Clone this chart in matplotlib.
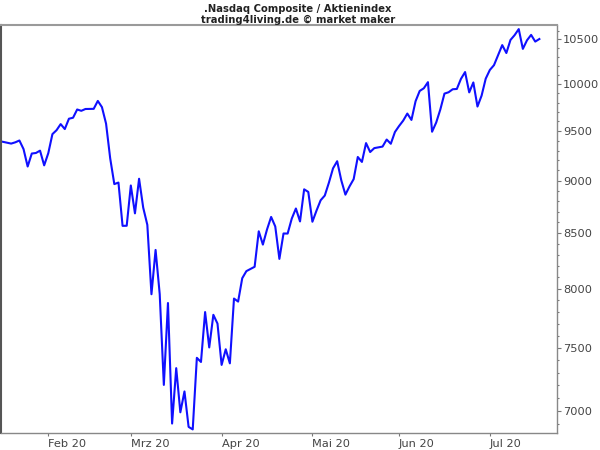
import numpy as np
import pandas as pd
import matplotlib
matplotlib.use("Agg")
import matplotlib.pyplot as plt
from matplotlib.ticker import FixedLocator, FixedFormatter, NullFormatter

# ---- data -------------------------------------------------------------
title_line1 = ".Nasdaq Composite / Aktienindex"
title_line2 = "trading4living.de \u00a9 market maker"

start_date = "2020-01-17"
end_date = "2020-07-17"
holidays = ["2020-01-20", "2020-02-17", "2020-04-10", "2020-05-25", "2020-07-03"]

closes = [
    # Jan
    9388.94, 9370.81, 9383.77, 9402.48, 9314.91, 9139.31, 9269.68, 9275.16, 9298.93, 9150.94,
    # Feb
    9273.40, 9467.97, 9508.68, 9572.15, 9520.51, 9628.39, 9638.94, 9725.96, 9711.97, 9731.18,
    9732.74, 9817.18, 9750.97, 9576.59, 9221.28, 8965.61, 8980.78, 8566.48, 8567.37,
    # Mar
    8952.17, 8684.09, 9018.09, 8738.60, 8575.62, 7950.68, 8344.25, 7952.05, 7201.80, 7874.88,
    6904.59, 7334.78, 6989.84, 7150.58, 6879.52, 6860.67, 7417.86, 7384.30, 7797.54, 7502.38,
    7774.15, 7700.10,
    # Apr
    7360.58, 7487.31, 7373.08, 7913.24, 7887.26, 8090.90, 8153.58, 8192.42, 8515.74, 8393.18,
    8532.36, 8650.14, 8560.73, 8263.23, 8495.38, 8494.75, 8634.52, 8730.16, 8607.73, 8914.71,
    8889.55,
    # May
    8604.95, 8710.71, 8809.12, 8854.39, 8979.66, 9121.32, 9192.34, 9002.55, 8863.17, 8943.72,
    9014.56, 9234.83, 9185.10, 9375.78, 9284.88, 9324.59, 9340.22, 9412.36, 9368.99, 9489.87,
    # Jun
    9552.05, 9608.38, 9682.91, 9615.81, 9814.08, 9924.75, 9953.75, 10020.35, 9492.73, 9588.81,
    9726.02, 9895.87, 9910.53, 9943.05, 9946.12, 10056.48, 10131.37, 9909.17, 10017.00, 9757.22,
    9874.15, 10058.77,
    # Jul
    10154.63, 10207.63, 10433.65, 10343.89, 10492.50, 10547.75, 10617.44, 10390.84, 10488.58,
    10550.49, 10473.83, 10503.19,
]

month_starts = ["2020-02-01", "2020-03-01", "2020-04-01", "2020-05-01", "2020-06-01", "2020-07-01"]
month_labels = ["Feb 20", "Mrz 20", "Apr 20", "Mai 20", "Jun 20", "Jul 20"]

y_major = [7000, 7500, 8000, 8500, 9000, 9500, 10000, 10500]
y_minor = [v for v in range(6900, 10700, 100) if v not in y_major]

# ---- derived positions (weekday axis) --------------------------------
bdays = pd.bdate_range(start_date, end_date)
trade_days = bdays[~bdays.isin(pd.to_datetime(holidays))]
start64 = np.datetime64(start_date)
x = np.busday_count(start64, trade_days.values.astype("datetime64[D]"))
tick_days = np.busday_offset(np.array(month_starts, dtype="datetime64[D]"), 0, roll="forward")
x_ticks = np.busday_count(start64, tick_days)

# ---- figure ----------------------------------------------------------
plt.rcParams["font.family"] = ["DejaVu Sans"]
fig = plt.figure(figsize=(6, 4.5), dpi=100)
ax = fig.add_axes([1 / 600, (450 - 432.7) / 450, 555.7 / 600, (432.7 - 25) / 450])

ax.plot(x, closes, color="#1010ff", lw=1.5, solid_joinstyle="round")

ax.set_yscale("log")
ax.set_ylim(6836, 10665)
ax.set_xlim(-0.46, 134.2)

ax.yaxis.tick_right()
ax.yaxis.set_major_locator(FixedLocator(y_major))
ax.yaxis.set_major_formatter(FixedFormatter([str(v) for v in y_major]))
ax.yaxis.set_minor_locator(FixedLocator(y_minor))
ax.yaxis.set_minor_formatter(NullFormatter())
ax.tick_params(axis="y", which="major", direction="out", length=3, width=0.8,
               color="#777777", labelsize=8.2, labelcolor="#444444", pad=1.5)
ax.tick_params(axis="y", which="minor", direction="out", length=1.6, width=0.8,
               color="#777777")

ax.xaxis.set_major_locator(FixedLocator(x_ticks))
ax.xaxis.set_major_formatter(FixedFormatter(month_labels))
ax.xaxis.set_minor_locator(FixedLocator([]))
ax.tick_params(axis="x", which="major", direction="out", length=2, width=0.8,
               color="#777777", labelsize=8.2, labelcolor="#444444", pad=2.5)
for lbl in ax.get_xticklabels():
    lbl.set_horizontalalignment("left")

ax.spines["top"].set_color("#9a9a9a")
ax.spines["top"].set_linewidth(1.5)
ax.spines["left"].set_color("#555555")
ax.spines["left"].set_linewidth(1.5)
ax.spines["right"].set_color("#888888")
ax.spines["right"].set_linewidth(1.0)
ax.spines["bottom"].set_color("#888888")
ax.spines["bottom"].set_linewidth(1.0)

fig.text(0.497, 1 - 8.5 / 450, title_line1, ha="center", va="center",
         fontsize=7.2, fontweight="bold", color="#222222")
fig.text(0.497, 1 - 19.5 / 450, title_line2, ha="center", va="center",
         fontsize=7.2, fontweight="bold", color="#222222")

fig.savefig("out.png", dpi=100)
